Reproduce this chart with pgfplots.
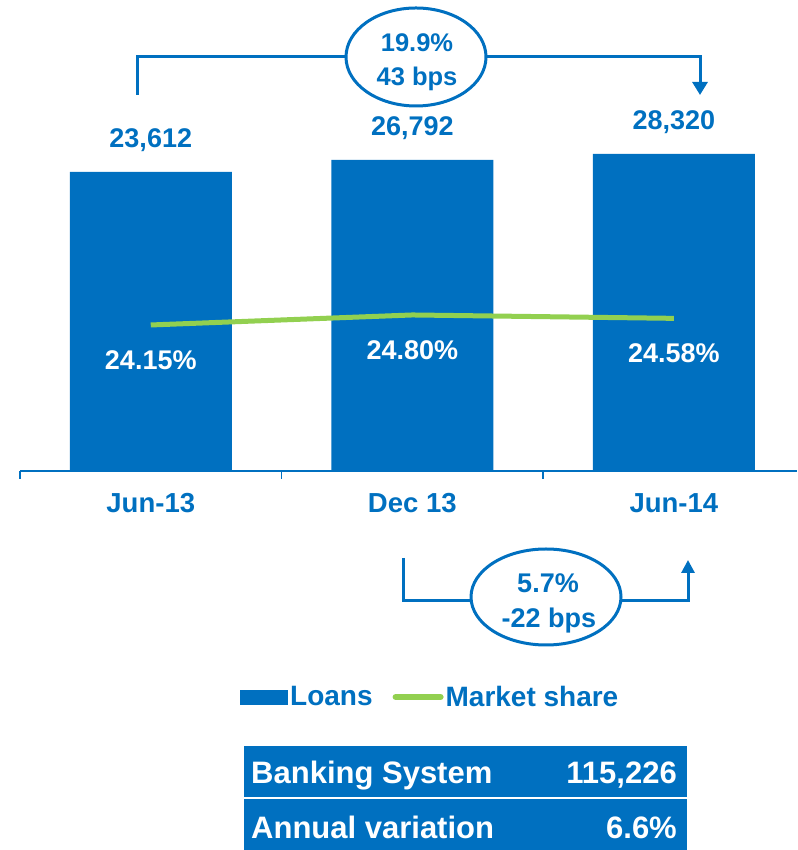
\documentclass[border=0pt]{standalone}
\usepackage{pgfplots}
\pgfplotsset{compat=1.18}
\usepackage{pgfplotstable}
\usetikzlibrary{arrows.meta}
\usepackage{fontspec}
\setmainfont{Liberation Sans}
\definecolor{myblue}{HTML}{0070C0}
\definecolor{mygreen}{HTML}{92D050}

\pgfplotstableread{
x loans label
0 23612 {23,612}
1 26792 {26,792}
2 28320 {28,320}
}\loans
\pgfplotstableread{
x share label
0 24.15 {24.15\%}
1 24.80 {24.80\%}
2 24.58 {24.58\%}
}\share

\begin{document}
\begin{tikzpicture}[x=1pt,y=1pt]
\useasboundingbox (0,0) rectangle (797,850);
\begin{axis}[
  at={(20pt,379pt)}, anchor=south west,
  scale only axis, width=777pt, height=471pt,
  xmin=-0.5, xmax=2.471,
  ymin=0, ymax=123200,
  y filter/.expression={y+54600},
  axis x line*=bottom, axis y line=none,
  axis line style={myblue, line width=2pt, -},
  xtick={0,1,2}, xticklabels={Jun-13,Dec 13,Jun-14},
  major tick length=0pt,
  extra x ticks={-0.5,0.5,1.5},
  extra x tick labels={},
  extra x tick style={major tick length=8pt, tick align=outside, tick style={myblue, line width=1.2pt}},
  xticklabel style={font=\bfseries\fontsize{27.5}{30}\selectfont, text=myblue, anchor=base, yshift=-42pt},
  clip=false,
  legend style={at={(axis description cs:0.528,-0.48)}, anchor=center, draw=none, fill=none,
    legend columns=2, font=\bfseries\fontsize{28}{30}\selectfont, text=myblue,
    /tikz/every even column/.append style={column sep=18pt},
    nodes={inner sep=2pt}},
]
\addplot[ybar, fill=myblue, draw=none, bar width=162pt,
  legend image code/.code={\fill[myblue] (0pt,-7.5pt) rectangle (48pt,7.5pt);},
  nodes near coords, point meta=explicit symbolic,
  every node near coord/.append style={font=\bfseries\fontsize{27}{29}\selectfont, text=myblue, anchor=center, yshift=32pt}]
  table[x=x, y=loans, meta=label] {\loans};
\addlegendentry{Loans}
\addlegendimage{legend image code/.code={\draw[mygreen, line width=6pt, line cap=round] (3pt,0pt) -- (48pt,0pt);}}
\addlegendentry{Market share}
\end{axis}
\begin{axis}[
  at={(20pt,379pt)}, anchor=south west,
  scale only axis, width=777pt, height=471pt,
  xmin=-0.5, xmax=2.471,
  ymin=14.67, ymax=45.25,
  hide axis, clip=false,
]
\addplot[mygreen, line width=5pt, no marks,
  nodes near coords, point meta=explicit symbolic,
  every node near coord/.append style={font=\bfseries\fontsize{27}{29}\selectfont, text=white, anchor=center, yshift=-35pt}]
  table[x=x, y=share, meta=label] {\share};
\end{axis}
% top bracket
\draw[myblue, line width=3pt] (137,755) -- (137,793) -- (350,793);
\draw[myblue, line width=3pt, -{Triangle[width=15pt,length=13pt]}] (480,793) -- (700,793) -- (700,755);
\draw[myblue, line width=3pt, fill=white] (416,793) ellipse [x radius=70, y radius=49];
\node[anchor=base, font=\bfseries\fontsize{25.5}{27}\selectfont, text=myblue] at (417,798) {19.9\%};
\node[anchor=base, font=\bfseries\fontsize{25.5}{27}\selectfont, text=myblue] at (417,764) {43 bps};
% bottom bracket
\draw[myblue, line width=3pt] (403,292) -- (403,249) -- (475,249);
\draw[myblue, line width=3pt, -{Triangle[width=13pt,length=13pt]}] (615,249) -- (688,249) -- (688,290);
\draw[myblue, line width=3pt, fill=white] (546,253) ellipse [x radius=75, y radius=48];
\node[anchor=base, font=\bfseries\fontsize{27}{29}\selectfont, text=myblue] at (548,257) {5.7\%};
\node[anchor=base, font=\bfseries\fontsize{27}{29}\selectfont, text=myblue] at (549,222) {-22 bps};
% table
\fill[myblue] (244,53) rectangle (687,104);
\fill[myblue] (244,0) rectangle (687,51);
\node[anchor=base west, inner sep=0pt, font=\bfseries\fontsize{31}{33}\selectfont, text=white] at (251,66) {Banking System};
\node[anchor=base east, inner sep=0pt, font=\bfseries\fontsize{31}{33}\selectfont, text=white] at (677,66) {115,226};
\node[anchor=base west, inner sep=0pt, font=\bfseries\fontsize{31}{33}\selectfont, text=white] at (251,12) {Annual variation};
\node[anchor=base east, inner sep=0pt, font=\bfseries\fontsize{31}{33}\selectfont, text=white] at (677,12) {6.6\%};
\end{tikzpicture}
\end{document}
